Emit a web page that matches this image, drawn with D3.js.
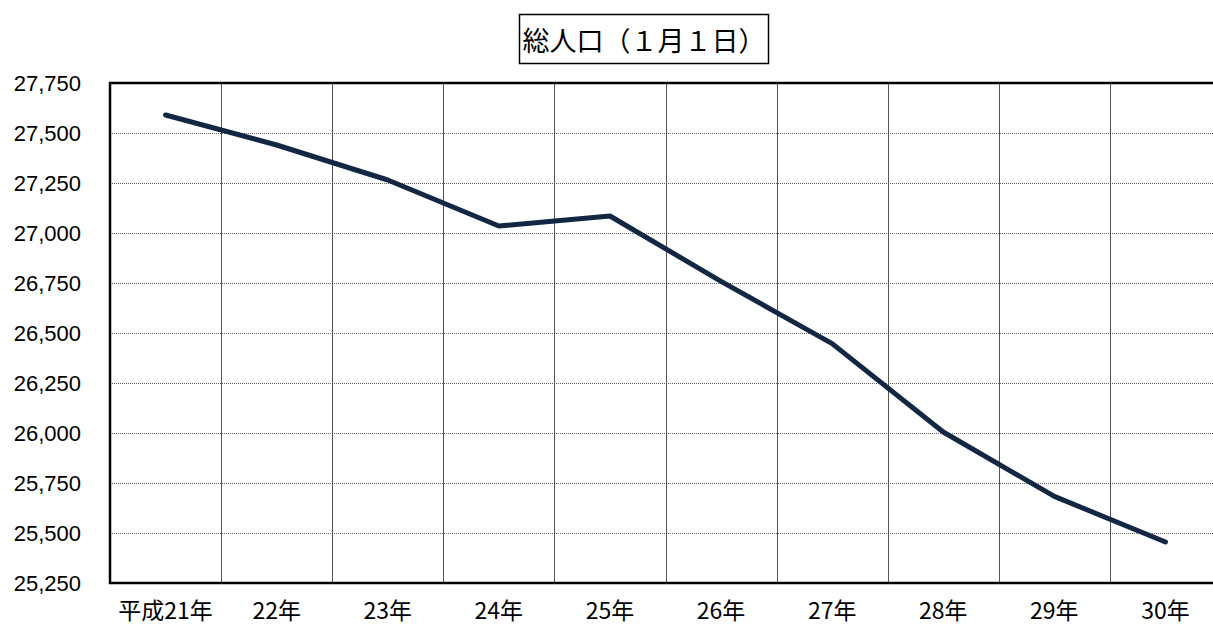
<!DOCTYPE html>
<html><head><meta charset="utf-8">
<script src="https://cdn.jsdelivr.net/npm/d3@7"></script>
<style>html,body{margin:0;padding:0;background:#fff;}svg{display:block;}</style>
</head><body>
<svg id="chart" width="1213" height="628"></svg>
<script>
const title = "総人口（１月１日）";
const categories = ["平成21年","22年","23年","24年","25年","26年","27年","28年","29年","30年"];
const population = [27590, 27440, 27265, 27035, 27085, 26758, 26447, 26005, 25683, 25455];
const yTicks = [25250, 25500, 25750, 26000, 26250, 26500, 26750, 27000, 27250, 27500, 27750];

(function () {
const svg = d3.select("#chart");
const pLeft = 110, pRight = 1221, pTop = 83, pBottom = 583;

const x = d3.scaleBand().domain(categories).range([pLeft, pRight]).paddingInner(0).paddingOuter(0);
const y = d3.scaleLinear().domain([25250, 27750]).range([pBottom, pTop]);

// horizontal dotted gridlines
svg.append("g").selectAll("line").data(yTicks.slice(1, -1)).join("line")
  .attr("x1", pLeft).attr("x2", pRight)
  .attr("y1", d => Math.round(y(d)) + 0.5).attr("y2", d => Math.round(y(d)) + 0.5)
  .attr("stroke", "#666").attr("stroke-width", 1).attr("stroke-dasharray", "1,1");

// vertical gridlines at category boundaries
svg.append("g").selectAll("line").data(categories.slice(1)).join("line")
  .attr("x1", d => Math.round(x(d)) + 0.5).attr("x2", d => Math.round(x(d)) + 0.5)
  .attr("y1", pTop).attr("y2", pBottom)
  .attr("stroke", "#555").attr("stroke-width", 1);

// plot border (top, left, bottom)
svg.append("path")
  .attr("d", `M${pRight},${pTop}H${pLeft}V${pBottom}H${pRight}`)
  .attr("fill", "none").attr("stroke", "#000").attr("stroke-width", 2.5);

// y axis labels
const yAxis = d3.axisLeft(y).tickValues(yTicks).tickSize(0).tickPadding(0).tickFormat(d3.format(","));
const ya = svg.append("g").attr("transform", `translate(81,0)`).call(yAxis);
ya.select(".domain").remove();
ya.selectAll("text").attr("font-family", "'Liberation Sans', Arial, sans-serif")
  .attr("font-size", 22).attr("fill", "#000");

// x axis labels
const xAxis = d3.axisBottom(x).tickSize(0).tickPadding(0);
const xa = svg.append("g").attr("transform", `translate(0,603)`).call(xAxis);
xa.select(".domain").remove();
xa.selectAll("text").attr("font-family", "'Noto Sans CJK JP', sans-serif")
  .attr("font-size", 23).attr("fill", "#000");

// line
const line = d3.line().x((d, i) => x(categories[i]) + x.bandwidth() / 2).y(d => y(d));
svg.append("path").datum(population).attr("d", line)
  .attr("fill", "none").attr("stroke", "#112743").attr("stroke-width", 5)
  .attr("stroke-linejoin", "round").attr("stroke-linecap", "round");

// title box
svg.append("rect").attr("x", 519.5).attr("y", 14.5).attr("width", 249).attr("height", 49)
  .attr("fill", "#fff").attr("stroke", "#000").attr("stroke-width", 1.5);
svg.append("text").attr("x", 644).attr("y", 39).attr("text-anchor", "middle")
  .attr("dominant-baseline", "central")
  .attr("font-family", "'Noto Sans CJK JP', sans-serif").attr("font-size", 27)
  .attr("fill", "#000").text(title);
})();
</script>
</body></html>
